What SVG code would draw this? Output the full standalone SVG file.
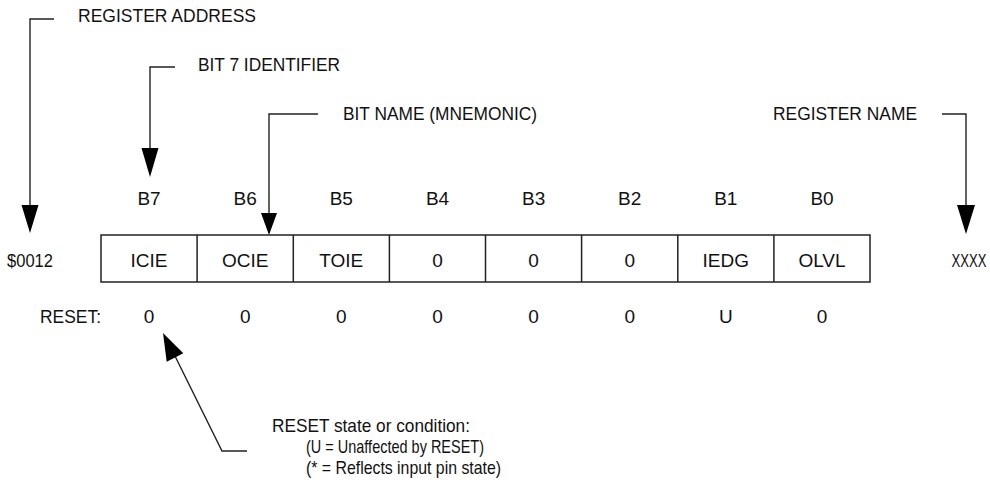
<svg xmlns="http://www.w3.org/2000/svg" width="990" height="491" viewBox="0 0 990 491">
<style>
text{font-family:"Liberation Sans",Arial,sans-serif;font-size:19px;fill:#111}
.c{text-anchor:middle}
.ln{fill:none;stroke:#222;stroke-width:1.4}
.ah{fill:#000;stroke:none}
.box{fill:#fff;stroke:#222;stroke-width:1.5}
</style>
<rect width="990" height="491" fill="#fff"/>
<g id="connectors">
<polyline class="ln" points="54,19 30,19 30,210"/>
<polygon class="ah" points="21.5,205 38.5,205 30,233"/>
<polyline class="ln" points="175,67 150,67 150,152"/>
<polygon class="ah" points="141.5,148 158.5,148 150,177"/>
<polyline class="ln" points="318,114 269,114 269,216"/>
<polygon class="ah" points="261,213 277,213 269,235"/>
<polyline class="ln" points="942,114 966,114 966,210"/>
<polygon class="ah" points="957,205 975,205 966,234"/>
<polyline class="ln" points="247,451 222,451 172,350"/>
<polygon class="ah" points="163,333 166.7,361.7 183.3,353.3"/>
</g>
<g id="labels">
<text x="78" y="21.5" textLength="178" lengthAdjust="spacingAndGlyphs">REGISTER ADDRESS</text>
<text x="198" y="70.5" textLength="142" lengthAdjust="spacingAndGlyphs">BIT 7 IDENTIFIER</text>
<text x="343" y="120" textLength="194" lengthAdjust="spacingAndGlyphs">BIT NAME (MNEMONIC)</text>
<text x="773" y="120" textLength="144" lengthAdjust="spacingAndGlyphs">REGISTER NAME</text>
</g>
<g id="bit-numbers">
<text class="c" x="149" y="205">B7</text>
<text class="c" x="245.2" y="205">B6</text>
<text class="c" x="341.3" y="205">B5</text>
<text class="c" x="437.5" y="205">B4</text>
<text class="c" x="533.6" y="205">B3</text>
<text class="c" x="629.7" y="205">B2</text>
<text class="c" x="725.8" y="205">B1</text>
<text class="c" x="822" y="205">B0</text>
</g>
<g id="register">
<rect class="box" x="101" y="235" width="769" height="47"/>
<path class="ln" d="M197.1,235V282M293.3,235V282M389.4,235V282M485.5,235V282M581.6,235V282M677.8,235V282M773.9,235V282" style="stroke-width:1.5"/>
<text class="c" x="149" y="266.5">ICIE</text>
<text class="c" x="245.2" y="266.5">OCIE</text>
<text class="c" x="341.3" y="266.5">TOIE</text>
<text class="c" x="437.5" y="266.5">0</text>
<text class="c" x="533.6" y="266.5">0</text>
<text class="c" x="629.7" y="266.5">0</text>
<text class="c" x="725.8" y="266.5">IEDG</text>
<text class="c" x="822" y="266.5">OLVL</text>
</g>
<g id="address"><text x="7" y="266.5" textLength="46" lengthAdjust="spacingAndGlyphs">$0012</text></g>
<g id="name"><text transform="translate(951.5,266.5) scale(0.69,1)" x="0" y="0">XXXX</text></g>
<g id="reset">
<text x="40" y="323" textLength="61" lengthAdjust="spacingAndGlyphs">RESET:</text>
<text class="c" x="149" y="323">0</text>
<text class="c" x="245.2" y="323">0</text>
<text class="c" x="341.3" y="323">0</text>
<text class="c" x="437.5" y="323">0</text>
<text class="c" x="533.6" y="323">0</text>
<text class="c" x="629.7" y="323">0</text>
<text class="c" x="725.8" y="323">U</text>
<text class="c" x="822" y="323">0</text>
</g>
<g id="reset-note">
<text x="272" y="431.5" textLength="198" lengthAdjust="spacingAndGlyphs">RESET state or condition:</text>
<text x="306" y="452.5" textLength="178" lengthAdjust="spacingAndGlyphs">(U = Unaffected by RESET)</text>
<text x="306" y="473.5" textLength="195" lengthAdjust="spacingAndGlyphs">(* = Reflects input pin state)</text>
</g>
</svg>
